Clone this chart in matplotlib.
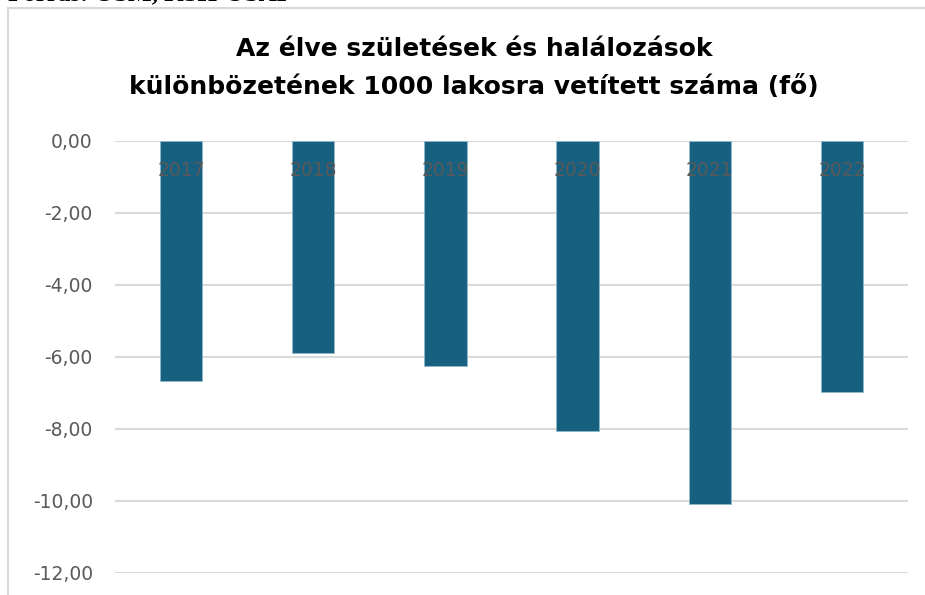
import matplotlib.pyplot as plt
from matplotlib.patches import Rectangle

# adatok
years = ['2017', '2018', '2019', '2020', '2021', '2022']
values = [-6.67, -5.89, -6.25, -8.06, -10.09, -6.97]
yticks = [0, -2, -4, -6, -8, -10, -12]

plt.rcParams['font.family'] = ['DejaVu Sans']

fig = plt.figure(figsize=(9.25, 5.95), dpi=100)

# keret a diagram körül
fig.patches.append(Rectangle((8 / 925, -0.05), 1.1, 1 - 8 / 595 + 0.05,
                             transform=fig.transFigure, fill=False,
                             edgecolor='#d9d9d9', linewidth=1.5))

# levágott forrás sor a kép tetején
fig.text(8 / 925, 1 - 0.5 / 595, 'Forrás: OSM, KSH-OSAP', family='Liberation Serif',
         fontsize=18, fontweight='bold', color='black', ha='left', va='baseline')

ax = fig.add_axes([115 / 925, 1 - 573 / 595, (908 - 115) / 925, (573 - 141) / 595])
x = range(len(years))
ax.bar(x, values, width=0.32, color='#17607f', edgecolor='#8fb8cc', linewidth=0.6, zorder=3)

ax.set_xlim(-0.5, len(years) - 0.5)
ax.set_ylim(-12, 0)
ax.set_yticks(yticks)
ax.set_yticklabels([f'{v:.2f}'.replace('.', ',') for v in yticks])
ax.set_xticks([])
ax.tick_params(axis='y', length=0, pad=16, labelsize=13.5, labelcolor='#595959')
ax.grid(axis='y', color='#d9d9d9', linewidth=1.5, zorder=0)
ax.set_axisbelow(True)
for s in ax.spines.values():
    s.set_visible(False)

# évszámok a nulla vonal alatt
for i, y in enumerate(years):
    ax.annotate(y, xy=(i, 1), xycoords=('data', 'axes fraction'),
                xytext=(0, -21), textcoords='offset points',
                ha='center', va='center', fontsize=13.5, color='#595959', zorder=4)

fig.text(474 / 925, 1 - 68 / 595,
         'Az élve születések és halálozások\nkülönbözetének 1000 lakosra vetített száma (fő)',
         ha='center', va='center', fontsize=18, fontweight='bold',
         family='DejaVu Sans', linespacing=1.75)

fig.savefig('out.png', dpi=100)
